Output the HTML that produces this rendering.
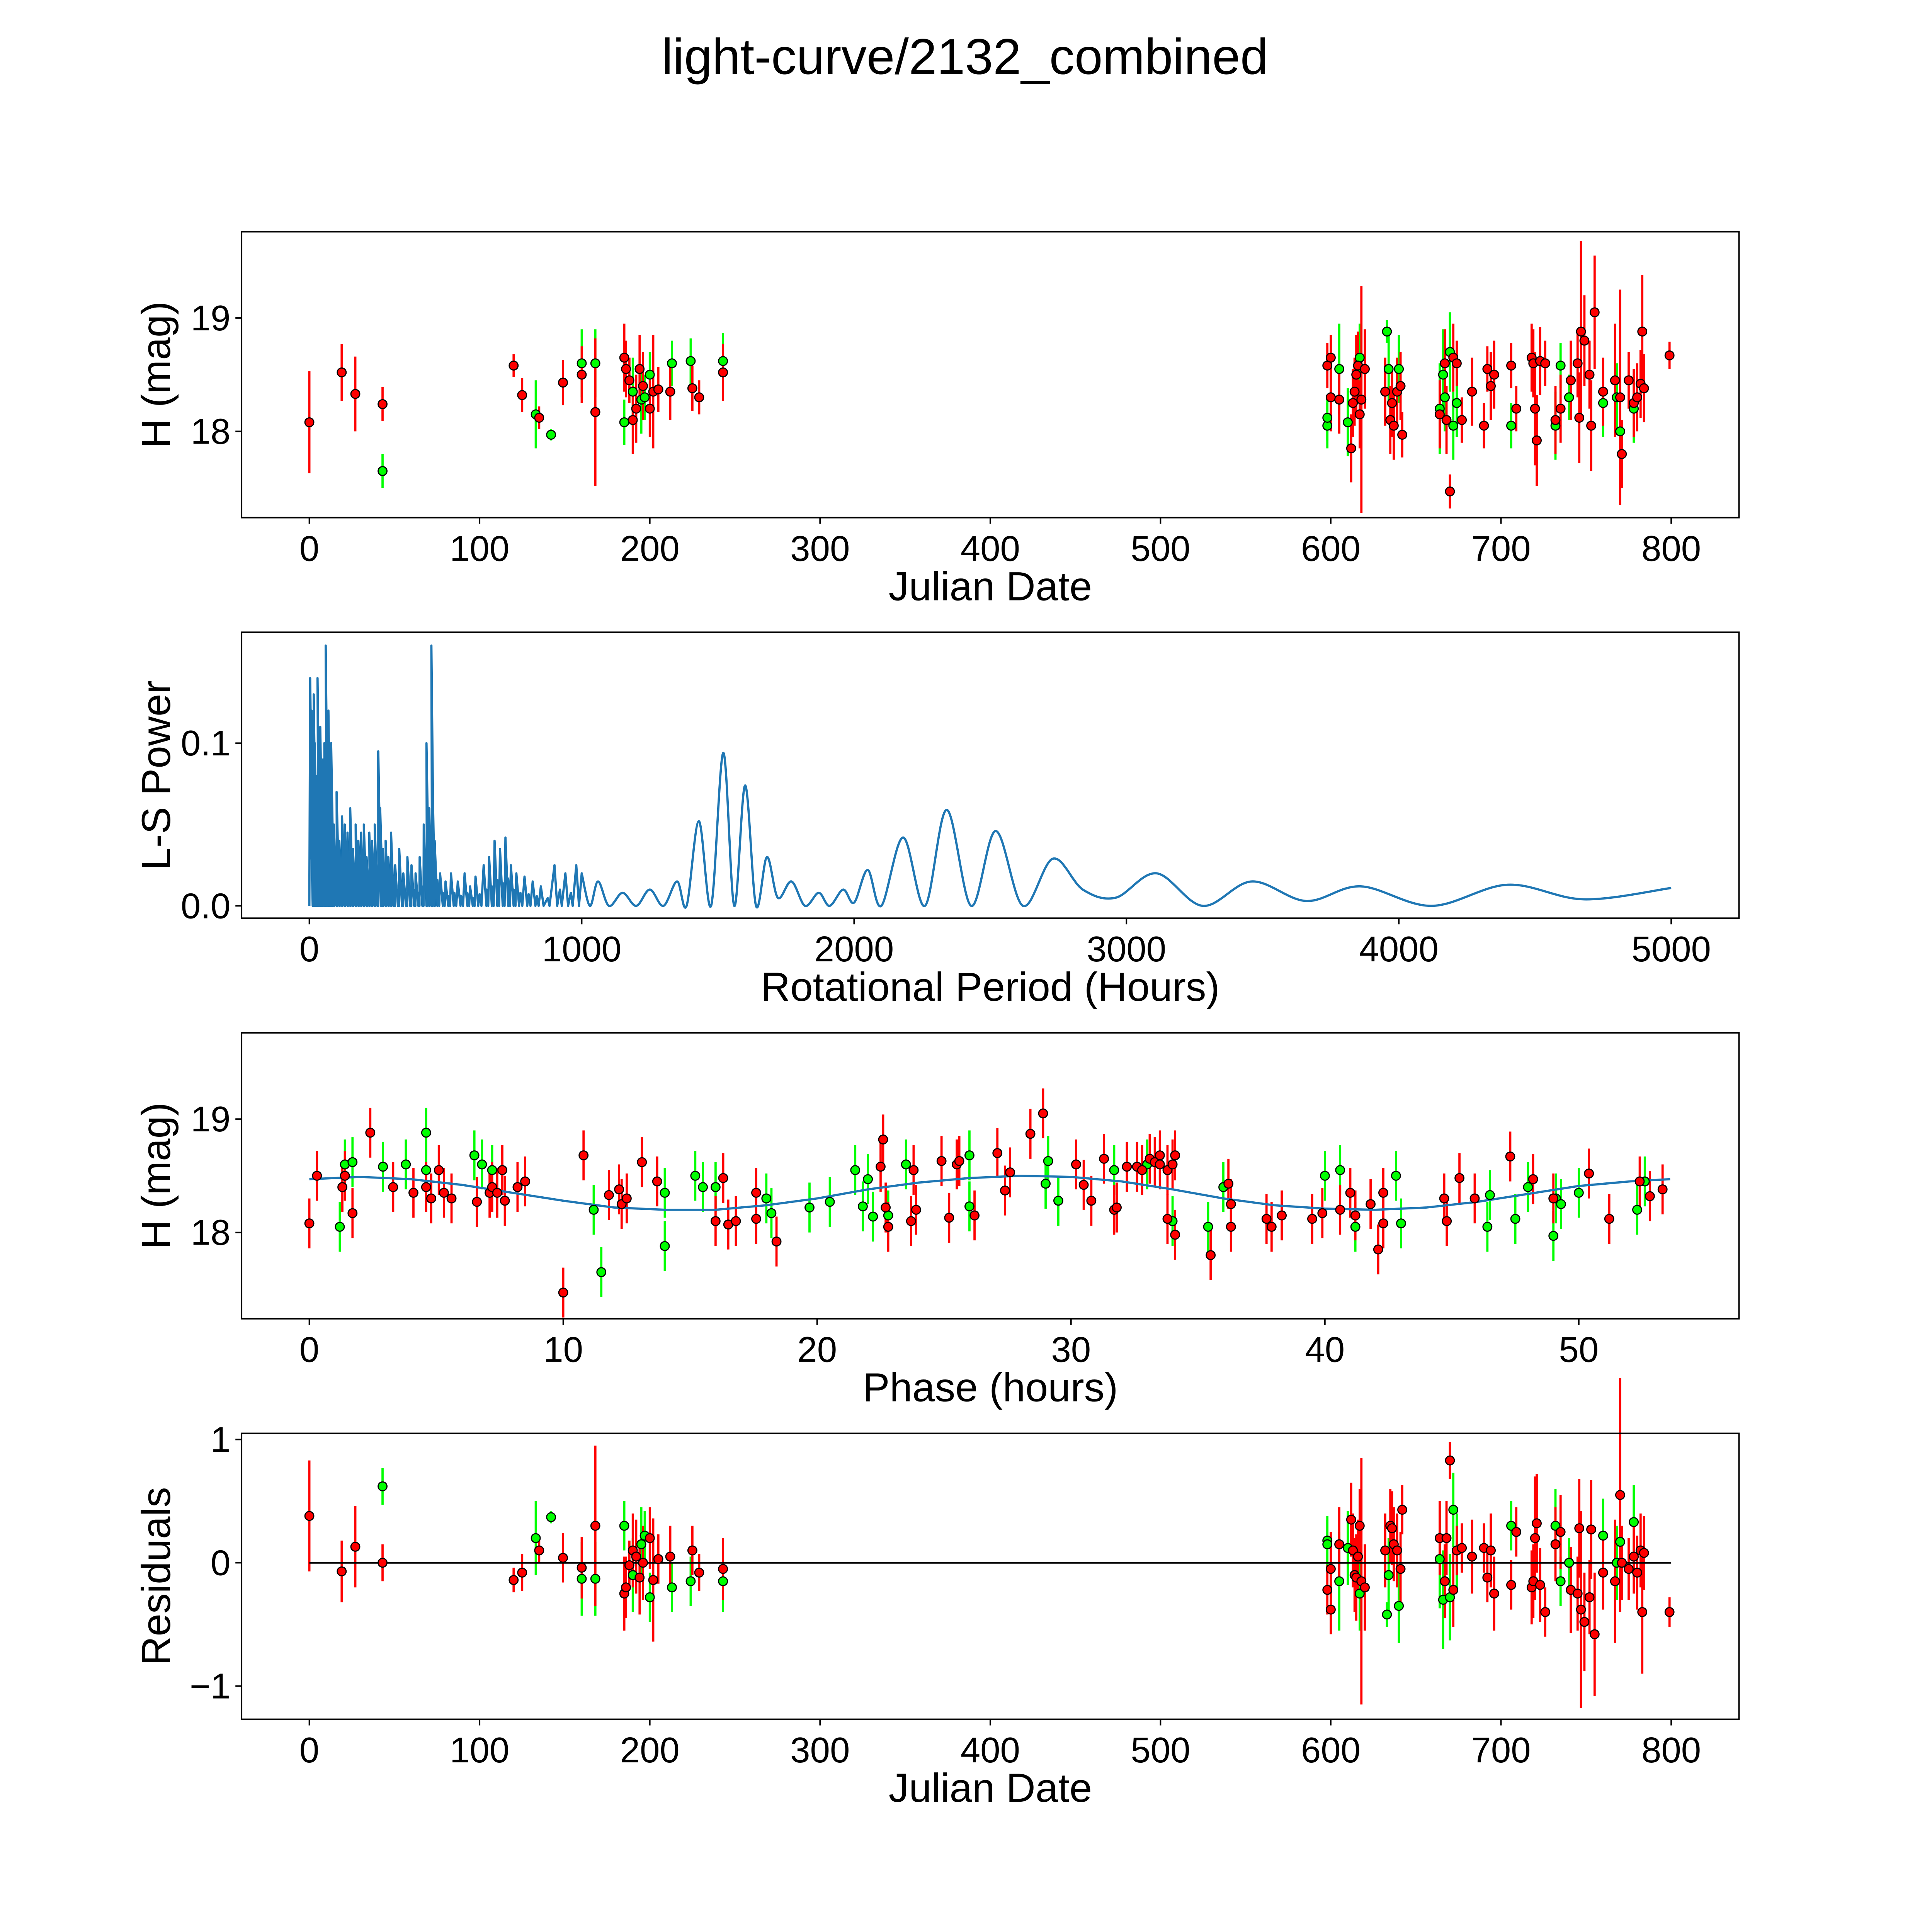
<!DOCTYPE html>
<html><head><meta charset="utf-8"><style>
html,body{margin:0;padding:0;background:#fff;overflow:hidden;width:5400px;height:5400px}
svg{display:block}
text{font-family:"Liberation Sans","DejaVu Sans",sans-serif;fill:#000}
</style></head><body>
<svg id="fig" width="5400" height="5400" viewBox="0 0 1693 1693" xmlns="http://www.w3.org/2000/svg">
<rect width="1693" height="1693" fill="#fff"/>
<text x="783" y="60" font-size="41" text-anchor="middle">light-curve/2132_combined</text>
</svg>
<script>
// ---- data: [julianDate, mag, err, residual]
const greenObs = [[43,17.65,0.15,0.62],[133,18.15,0.3,0.2],[142,17.97,0.05,0.37],[160,18.6,0.3,-0.13],[168,18.6,0.3,-0.13],[185,18.08,0.2,0.3],[190,18.35,0.3,-0.1],[195,18.28,0.3,0.15],[197,18.3,0.2,0.22],[200,18.5,0.2,-0.28],[213,18.6,0.2,-0.2],[224,18.62,0.2,-0.15],[243,18.62,0.25,-0.15],[598,18.05,0.2,0.18],[598,18.12,0.2,0.15],[605,18.55,0.4,-0.15],[610,18.08,0.3,0.12],[617,18.65,0.3,-0.25],[633,18.88,0.1,-0.42],[634,18.55,0.3,-0.1],[640,18.55,0.3,-0.35],[664,18.2,0.4,0.03],[666,18.5,0.4,-0.3],[667,18.3,0.3,-0.15],[670,18.7,0.35,-0.28],[672,18.05,0.3,0.43],[674,18.25,0.3,0.1],[706,18.05,0.2,0.3],[732,18.05,0.3,0.3],[735,18.58,0.2,-0.15],[740,18.3,0.2,0.0],[760,18.25,0.3,0.22],[768,18.3,0.3,0.0],[770,18.0,0.2,0.17],[778,18.2,0.3,0.33]];
const redObs = [[0,18.08,0.45,0.38],[19,18.52,0.25,-0.07],[27,18.33,0.33,0.13],[43,18.24,0.15,0.0],[120,18.58,0.1,-0.14],[125,18.32,0.15,-0.08],[135,18.12,0.1,0.1],[149,18.43,0.2,0.04],[160,18.5,0.25,-0.04],[168,18.17,0.65,0.3],[185,18.65,0.3,-0.25],[186,18.55,0.25,-0.2],[188,18.45,0.2,-0.02],[190,18.1,0.3,0.1],[192,18.2,0.3,0.05],[194,18.55,0.3,-0.12],[196,18.4,0.3,0.0],[200,18.2,0.25,0.2],[202,18.35,0.5,-0.14],[205,18.37,0.2,0.03],[212,18.35,0.25,0.05],[225,18.38,0.2,0.1],[229,18.3,0.15,-0.08],[243,18.52,0.25,-0.05],[598,18.58,0.2,-0.22],[600,18.65,0.2,-0.38],[600,18.3,0.3,-0.05],[605,18.28,0.3,0.15],[612,17.85,0.3,0.35],[613,18.25,0.3,0.1],[614,18.35,0.3,-0.1],[615,18.5,0.35,-0.12],[616,18.58,0.3,0.05],[617,18.15,0.3,0.3],[618,18.28,1.0,-0.15],[620,18.55,0.35,-0.2],[632,18.35,0.3,0.1],[635,18.1,0.3,0.3],[636,18.25,0.3,0.28],[637,18.05,0.3,0.15],[639,18.35,0.3,0.1],[641,18.4,0.3,-0.05],[642,17.97,0.2,0.43],[664,18.15,0.3,0.2],[667,18.6,0.3,-0.15],[668,18.1,0.3,0.2],[670,17.47,0.15,0.83],[672,18.65,0.3,-0.22],[674,18.6,0.2,0.1],[677,18.1,0.2,0.12],[683,18.35,0.3,0.05],[690,18.05,0.2,0.12],[692,18.55,0.2,-0.12],[694,18.4,0.3,0.1],[696,18.5,0.3,-0.25],[706,18.58,0.2,-0.18],[709,18.2,0.2,0.25],[718,18.65,0.3,-0.2],[719,18.6,0.3,-0.15],[720,18.2,0.5,0.2],[721,17.92,0.4,0.32],[723,18.62,0.3,-0.18],[726,18.6,0.2,-0.4],[732,18.1,0.3,0.15],[735,18.2,0.3,0.25],[741,18.45,0.35,-0.22],[745,18.6,0.3,-0.25],[746,18.12,0.4,0.28],[747,18.88,0.8,-0.38],[749,18.8,0.4,-0.48],[752,18.5,0.3,-0.28],[753,18.05,0.4,0.27],[755,19.05,0.5,-0.58],[760,18.35,0.3,-0.08],[767,18.45,0.5,-0.15],[770,18.3,0.95,0.55],[771,17.8,0.3,0.0],[775,18.45,0.25,-0.05],[778,18.25,0.3,0.05],[780,18.3,0.3,-0.08],[782,18.42,0.3,0.1],[783,18.88,0.5,-0.4],[784,18.38,0.3,0.08],[799,18.67,0.12,-0.4]];
// periodogram: spikes [period, power] and smooth tail [period, power]
const spikePeriods = [3,8,12,16,20,25,30,35,40,45,50,55,60,65,70,75,80,90,100,110,120,130,140,150,160,170,180,190,200,210,220,230,240,253,260,270,280,290,300,315,330,345,360,375,390,405,420,430,440,448,460,480,500,520,545,570,590,610,640,660,680,700,720,740,760,790,820,850,900,940,980];
const spikePowers = [0.14,0.12,0.09,0.13,0.10,0.08,0.14,0.07,0.11,0.06,0.09,0.10,0.16,0.08,0.12,0.06,0.10,0.05,0.07,0.04,0.055,0.05,0.045,0.06,0.035,0.05,0.04,0.045,0.05,0.03,0.045,0.04,0.05,0.095,0.06,0.035,0.04,0.03,0.045,0.025,0.035,0.02,0.03,0.025,0.02,0.03,0.05,0.10,0.06,0.16,0.04,0.02,0.015,0.02,0.015,0.02,0.012,0.018,0.025,0.03,0.04,0.035,0.042,0.025,0.02,0.018,0.015,0.012,0.025,0.02,0.025];
const tailPeriods = [1000,1030,1060,1100,1150,1200,1250,1300,1350,1385,1430,1475,1520,1560,1600,1640,1680,1720,1770,1820,1870,1910,1960,2000,2050,2100,2180,2260,2340,2430,2520,2620,2730,2840,2960,3110,3280,3460,3660,3860,4120,4400,4680,5000];
const tailPowers = [0.02,0,0.015,0,0.008,0,0.01,0,0.015,0,0.052,0,0.094,0,0.074,0,0.03,0.005,0.015,0,0.008,0,0.01,0.002,0.022,0,0.042,0,0.059,0,0.046,0,0.029,0.01,0.005,0.02,0,0.015,0.003,0.012,0,0.013,0.004,0.011];
// phased data: [phaseHours, mag]
const greenPhase = [[1.2,18.05],[1.4,18.6],[1.7,18.62],[2.9,18.58],[3.8,18.6],[4.6,18.88],[4.6,18.55],[6.5,18.68],[6.8,18.6],[7.2,18.55],[11.2,18.2],[11.5,17.65],[14.0,17.88],[14.0,18.35],[15.2,18.5],[15.5,18.4],[16.0,18.4],[18.0,18.3],[18.2,18.17],[19.7,18.22],[20.5,18.27],[21.5,18.55],[21.8,18.23],[22.0,18.47],[22.2,18.14],[22.8,18.15],[23.5,18.6],[26.0,18.68],[26.0,18.23],[29.1,18.63],[29.0,18.43],[29.5,18.28],[31.7,18.55],[33.0,18.6],[34.0,18.1],[35.4,18.05],[36.0,18.4],[40.0,18.5],[40.6,18.55],[41.2,18.05],[42.8,18.5],[43.0,18.08],[46.5,18.33],[46.4,18.05],[47.5,18.12],[48.0,18.4],[49.0,17.97],[49.1,18.3],[49.3,18.25],[50.0,18.35],[52.3,18.2],[52.6,18.45]];
const redPhase = [[0,18.08],[0.3,18.5],[1.3,18.4],[1.4,18.5],[1.7,18.17],[2.4,18.88],[3.3,18.4],[4.1,18.35],[4.6,18.4],[4.8,18.3],[5.1,18.55],[5.3,18.35],[5.6,18.3],[6.6,18.27],[7.1,18.35],[7.2,18.4],[7.4,18.35],[7.6,18.55],[7.7,18.28],[8.5,18.45],[8.2,18.4],[10.0,17.47],[10.8,18.68],[11.8,18.33],[12.2,18.38],[12.3,18.25],[12.5,18.3],[13.1,18.62],[13.7,18.45],[16.0,18.1],[16.3,18.48],[16.5,18.07],[16.8,18.1],[17.6,18.35],[17.6,18.12],[18.4,17.92],[22.5,18.58],[22.6,18.82],[22.7,18.22],[22.8,18.05],[23.8,18.55],[23.9,18.2],[23.7,18.1],[24.9,18.63],[25.2,18.13],[25.5,18.6],[25.6,18.63],[26.2,18.15],[27.1,18.7],[27.4,18.37],[27.6,18.53],[28.4,18.87],[28.9,19.05],[30.2,18.6],[30.5,18.42],[30.8,18.28],[31.3,18.65],[31.7,18.2],[31.8,18.22],[32.2,18.58],[32.6,18.58],[32.8,18.55],[33.1,18.65],[33.3,18.62],[33.5,18.68],[33.5,18.6],[33.8,18.55],[33.8,18.12],[34.0,18.6],[34.1,18.68],[34.1,17.98],[35.5,17.8],[36.2,18.43],[36.3,18.25],[36.3,18.05],[37.7,18.12],[37.9,18.05],[38.3,18.15],[39.5,18.12],[39.9,18.17],[40.6,18.2],[41.0,18.35],[41.2,18.15],[41.8,18.25],[42.1,17.85],[42.3,18.08],[42.3,18.35],[44.7,18.3],[44.8,18.1],[45.3,18.48],[45.9,18.3],[47.3,18.67],[48.2,18.47],[49.0,18.3],[50.4,18.52],[51.2,18.12],[52.4,18.45],[52.8,18.32],[53.3,18.38]];
const modelPhase = [0,2,4,6,8,10,12,14,16,18,20,22,24,26,28,30,32,34,36,38,40,42,44,46,48,50,52,53.6];
const modelMag = [18.47,18.49,18.47,18.42,18.35,18.28,18.22,18.2,18.2,18.24,18.3,18.38,18.44,18.48,18.5,18.49,18.45,18.38,18.3,18.24,18.21,18.2,18.22,18.27,18.34,18.41,18.45,18.47];
const jdTicks = [0,100,200,300,400,500,600,700,800];
const periodTicks = [0,1000,2000,3000,4000,5000];
const phaseTicks = [0,10,20,30,40,50];

const NS='http://www.w3.org/2000/svg';
const svg=document.getElementById('fig');
function el(tag,attrs,parent){const e=document.createElementNS(NS,tag);for(const k in attrs)e.setAttribute(k,attrs[k]);(parent||svg).appendChild(e);return e;}
function lin(d0,d1,r0,r1){return v=>r0+(v-d0)*(r1-r0)/(d1-d0);}

const L=196,R=1411;
function makeAxes(name,top,bottom,xs,ys,xticks,yticks,ylabels,xlabel,ylabel){
  const g=el('g',{});
  
  
  xticks.forEach(t=>{
    const x=xs(t);
    el('line',{x1:x,x2:x,y1:bottom,y2:bottom+5,stroke:'#000','stroke-width':1.2},g);
    const tx=el('text',{x:x,y:bottom+35,'font-size':29,'text-anchor':'middle'},g);
    tx.textContent=String(t);
    
    
  });
  yticks.forEach((t,i)=>{
    const y=ys(t);
    el('line',{x1:L-5,x2:L,y1:y,y2:y,stroke:'#000','stroke-width':1.2},g);
    const tx=el('text',{x:L-9,y:y+10,'font-size':29,'text-anchor':'end'},g);
    tx.textContent=ylabels[i];
    
    
  });
  const xl=el('text',{x:(L+R)/2,y:bottom+67,'font-size':33,'text-anchor':'middle'},g);
  xl.textContent=xlabel;
  
  
  const cy=(top+bottom)/2;
  const yl=el('text',{x:0,y:0,'font-size':33,'text-anchor':'middle',transform:`translate(138,${cy}) rotate(-90)`},g);
  yl.textContent=ylabel;
  
  
  return g;
}
function frame(top,bottom){const r=el('rect',{x:L,y:top,width:R-L,height:bottom-top,fill:'none',stroke:'#000','stroke-width':1.2});}
function errPoint(g,x,y,yTop,yBot,color){
  el('line',{x1:x,x2:x,y1:yTop,y2:yBot,stroke:color,'stroke-width':1.8},g);
}
function dot(g,x,y,color){el('circle',{cx:x,cy:y,r:3.6,fill:color,stroke:'#000','stroke-width':0.9},g);}

// Panel 1
{
  const top=188,bot=420;
  const xs=lin(0,800,251,1356), ys=lin(18,19,350,258);
  makeAxes('lightcurve-axes',top,bot,xs,ys,jdTicks,[18,19],['18','19'],'Julian Date','H (mag)');
  const g=el('g',{});
  
  
  [[greenObs,'#00ff00'],[redObs,'#ff0000']].forEach(([d,c])=>d.forEach(p=>errPoint(g,xs(p[0]),ys(p[1]),ys(p[1]+p[2]),ys(p[1]-p[2]),c)));
  [[greenObs,'#00ff00'],[redObs,'#ff0000']].forEach(([d,c])=>d.forEach(p=>dot(g,xs(p[0]),ys(p[1]),c)));
  frame(top,bot);
}
// Panel 2
{
  const top=513,bot=745;
  const xs=lin(0,5000,251,1356), ys=lin(0,0.1,735,603);
  makeAxes('periodogram-axes',top,bot,xs,ys,periodTicks,[0,0.1],['0.0','0.1'],'Rotational Period (Hours)','L-S Power');
  let d=`M${xs(0)},${ys(0)}`;
  spikePeriods.forEach((p,i)=>{
    d+=` L${xs(p)},${ys(spikePowers[i])} L${xs(p)+2.2},${ys(0)}`;
    if(i<spikePeriods.length-1){const mid=(p+spikePeriods[i+1])/2;d+=` L${xs(mid)},${ys(spikePowers[i]*0.4)} L${xs(mid)+1.5},${ys(0)}`;}
  });
  const pts=tailPeriods.map((p,i)=>[xs(p),ys(tailPowers[i])]);
  d+=` L${pts[0][0]},${pts[0][1]}`;
  for(let i=0;i<pts.length-1;i++){
    const p0=pts[Math.max(0,i-1)],p1=pts[i],p2=pts[i+1],p3=pts[Math.min(pts.length-1,i+2)];
    const c1=[p1[0]+(p2[0]-p0[0])/6,p1[1]+(p2[1]-p0[1])/6];
    const c2=[p2[0]-(p3[0]-p1[0])/6,p2[1]-(p3[1]-p1[1])/6];
    d+=` C${c1[0]},${c1[1]} ${c2[0]},${c2[1]} ${p2[0]},${p2[1]}`;
  }
  const path=el('path',{d:d,fill:'none',stroke:'#1f77b4','stroke-width':1.8,'stroke-linejoin':'round'});
  
  
  frame(top,bot);
}
// Panel 3
{
  const top=838,bot=1070;
  const xs=lin(0,50,251,1281), ys=lin(18,19,1000,908);
  makeAxes('phase-axes',top,bot,xs,ys,phaseTicks,[18,19],['18','19'],'Phase (hours)','H (mag)');
  const g=el('g',{});
  
  
  const er=0.22;
  [[greenPhase,'#00ff00'],[redPhase,'#ff0000']].forEach(([d,c])=>d.forEach(p=>errPoint(g,xs(p[0]),ys(p[1]),ys(p[1]+er),ys(p[1]-er),c)));
  const mp=el('polyline',{points:modelPhase.map((p,i)=>`${xs(p)},${ys(modelMag[i])}`).join(' '),fill:'none',stroke:'#1f77b4','stroke-width':1.8});
  
  
  const g2=el('g',{});
  [[greenPhase,'#00ff00'],[redPhase,'#ff0000']].forEach(([d,c])=>d.forEach(p=>dot(g2,xs(p[0]),ys(p[1]),c)));
  frame(top,bot);
}
// Panel 4
{
  const top=1163,bot=1395;
  const xs=lin(0,800,251,1356), ys=lin(0,1,1268,1168);
  makeAxes('residuals-axes',top,bot,xs,ys,jdTicks,[-1,0,1],['\u22121','0','1'],'Julian Date','Residuals');
  const g=el('g',{});
  
  
  [[greenObs,'#00ff00'],[redObs,'#ff0000']].forEach(([d,c])=>d.forEach(p=>errPoint(g,xs(p[0]),ys(p[3]),ys(p[3]+p[2]),ys(p[3]-p[2]),c)));
  const zl=el('line',{x1:xs(0),x2:xs(800),y1:ys(0),y2:ys(0),stroke:'#000','stroke-width':1.5});
  
  
  const g2=el('g',{});
  [[greenObs,'#00ff00'],[redObs,'#ff0000']].forEach(([d,c])=>d.forEach(p=>dot(g2,xs(p[0]),ys(p[3]),c)));
  frame(top,bot);
}
</script>
</body></html>
